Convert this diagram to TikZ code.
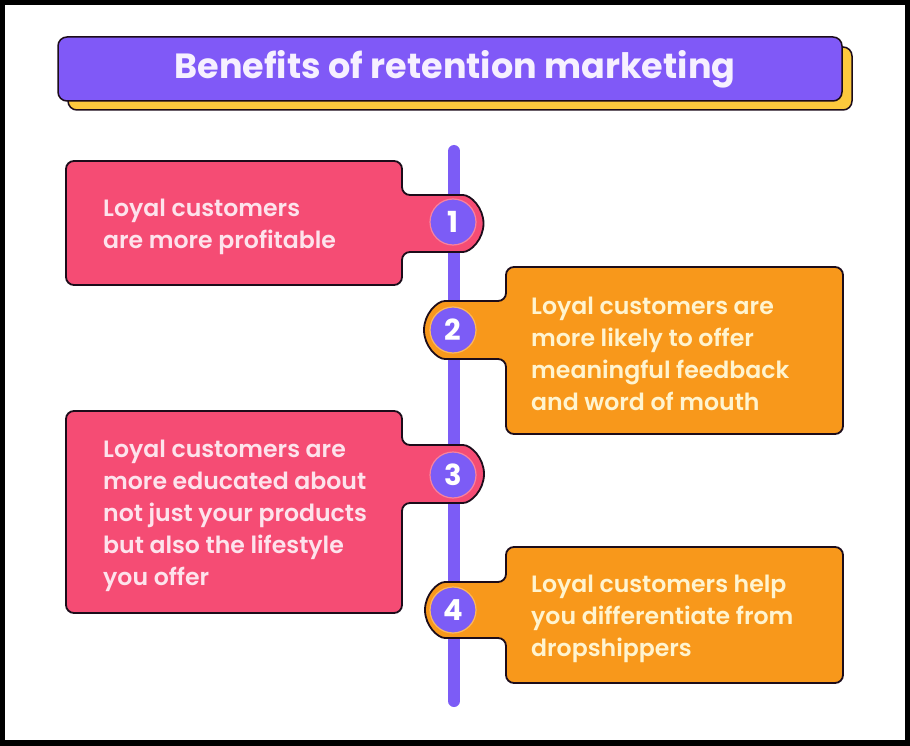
\documentclass[tikz,border=0pt]{standalone}
\usepackage{fontspec}
\setmainfont{Poppins}
\newfontfamily\medfont{Poppins SemiBold}
\definecolor{vpurple}{HTML}{7C5CF6}
\definecolor{tpurple}{HTML}{8059F7}
\definecolor{bpink}{HTML}{F54C74}
\definecolor{borange}{HTML}{F8981B}
\definecolor{byellow}{HTML}{FDC93D}
\definecolor{bdark}{HTML}{1C0C1A}
\definecolor{pinktext}{HTML}{FDE3EC}
\definecolor{orangetext}{HTML}{FFF4CF}
\definecolor{titletext}{HTML}{F6F0FF}
\tikzset{
  boxline/.style={draw=bdark, line width=1.8pt, rounded corners=8pt},
  numcirc/.style={circle, fill=vpurple, minimum size=46pt, inner sep=0pt, text=white, font=\fontsize{29}{29}\selectfont\bfseries},
  bodytext/.style={anchor=base west, align=left, inner sep=0pt, font=\medfont\fontsize{23.6}{32}\selectfont},
}
\begin{document}
\begin{tikzpicture}[x=1pt,y=-1pt]
\useasboundingbox (0,0) rectangle (910,746);
\fill[black] (0,0) rectangle (910,746);
\fill[white] (5,5) rectangle (905,740);
% title
\draw[draw=bdark, line width=1.5pt, fill=byellow, rounded corners=9pt] (68,47) rectangle (852,110);
\draw[draw=bdark, line width=1.5pt, fill=tpurple, rounded corners=9pt] (58,37) rectangle (842,101);
\node[text=titletext, font=\fontsize{35}{35}\selectfont\bfseries, inner sep=0pt] (title) at (455,69) {Benefits of retention marketing};
% timeline
\coordinate (ltop) at (454,151);
\coordinate (lbot) at (454,701);
\draw[vpurple, line width=12pt, line cap=round] (ltop) -- (lbot);
% box 1
\draw[boxline, fill=bpink] (430,195) -- (455,195) arc[start angle=-90, end angle=90, radius=28.5] -- (402,252) -- (402,285) -- (66,285) -- (66,161) -- (402,161) -- (402,195) -- cycle;
% box 2
\draw[boxline, fill=borange] (480,301) -- (506,301) -- (506,267) -- (843,267) -- (843,434) -- (506,434) -- (506,359) -- (453,359) arc[start angle=90, end angle=270, radius=29] -- cycle;
% box 3
\draw[boxline, fill=bpink] (430,445) -- (455,445) arc[start angle=-90, end angle=90, radius=29] -- (402,503) -- (402,613) -- (66,613) -- (66,411) -- (402,411) -- (402,445) -- cycle;
% box 4
\draw[boxline, fill=borange] (480,582) -- (506,582) -- (506,547) -- (843,547) -- (843,683) -- (506,683) -- (506,638) -- (453,638) arc[start angle=90, end angle=270, radius=28] -- cycle;
% numbers
\node[numcirc, draw=bpink!70!white, line width=1.2pt] (n1) at (453,222) {1};
\node[numcirc, draw=borange!70!white, line width=1.2pt] (n2) at (453,330) {2};
\node[numcirc, draw=bpink!70!white, line width=1.2pt] (n3) at (453,475) {3};
\node[numcirc, draw=borange!70!white, line width=1.2pt] (n4) at (453,610) {4};
% texts
\node[bodytext, text=pinktext] (t1) at (103,248) {Loyal customers\\are more profitable};
\node[bodytext, text=orangetext] (t2) at (531,410) {Loyal customers are\\more likely to offer\\meaningful feedback\\and word of mouth};
\node[bodytext, text=pinktext] (t3) at (103,585) {Loyal customers are\\more educated about\\not just your products\\but also the lifestyle\\you offer};
\node[bodytext, text=orangetext] (t4) at (531,656) {Loyal customers help\\you differentiate from\\dropshippers};
\end{tikzpicture}
\end{document}
